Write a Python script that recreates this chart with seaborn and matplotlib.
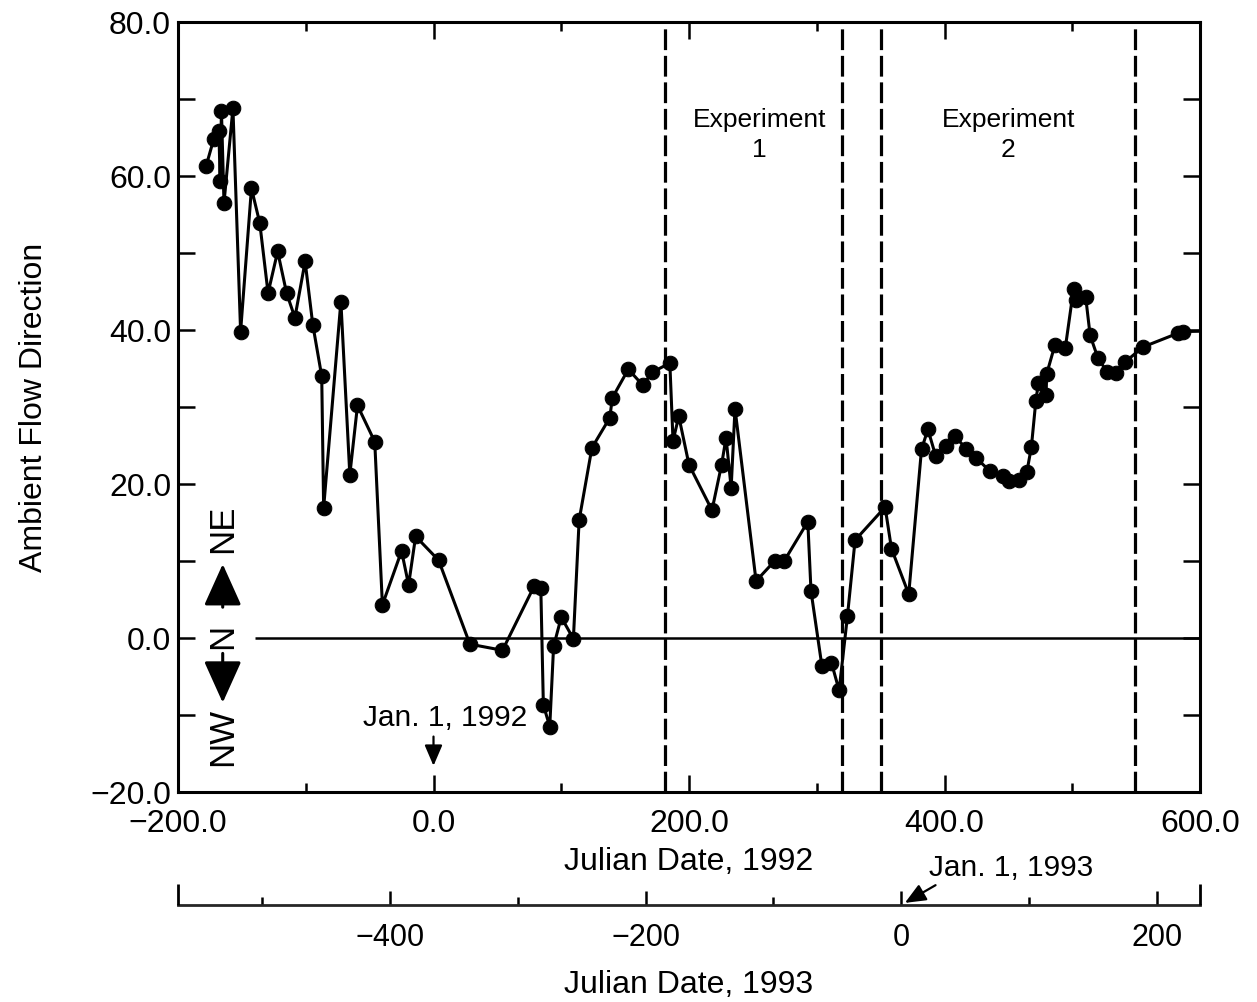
import matplotlib
matplotlib.use("Agg")
import matplotlib.pyplot as plt
import matplotlib.ticker as mticker
import matplotlib.transforms as mtransforms
import seaborn as sns

# Julian day (1992 reckoning) and ambient flow direction (degrees east of north)
julian_day = [
    -178, -172, -168, -167, -166, -164, -157, -151, -142.5, -136,
    -129.5, -122, -115, -108.5, -100.5, -94.5, -87.5, -86, -72.5, -65.5,
    -59.5, -46, -40, -25, -19.5, -14, 4, 28.5, 54, 79,
    84, 86, 91, 94, 100, 109.5, 114, 124, 138, 140,
    152.5, 164, 171, 185, 187.5, 192, 200, 218, 225.5, 229,
    233, 236, 252.5, 267, 274.5, 293, 295.5, 304, 311.5, 317.5,
    324, 330, 353.5, 358.5, 372, 382, 387, 393, 401, 408,
    417, 424.5, 435.5, 445.5, 450.5, 458, 464.5, 468, 471.5, 473.5,
    479.5, 480, 486.5, 494.5, 501, 503, 510.5, 514, 520, 527.5,
    534, 541, 555.5, 583, 587, 620,
]
flow_dir = [
    61.3, 64.8, 65.8, 59.4, 68.5, 56.5, 68.8, 39.8, 58.4, 53.9,
    44.8, 50.2, 44.8, 41.6, 48.9, 40.7, 34.0, 16.9, 43.7, 21.2,
    30.2, 25.5, 4.3, 11.3, 6.9, 13.2, 10.1, -0.8, -1.6, 6.8,
    6.5, -8.7, -11.5, -1.1, 2.7, -0.1, 15.3, 24.7, 28.6, 31.2,
    34.9, 32.8, 34.5, 35.7, 25.6, 28.8, 22.5, 16.6, 22.5, 26.0,
    19.5, 29.8, 7.4, 10.0, 10.0, 15.1, 6.1, -3.6, -3.2, -6.8,
    2.8, 12.7, 17.0, 11.6, 5.7, 24.5, 27.1, 23.7, 25.0, 26.2,
    24.6, 23.4, 21.7, 21.1, 20.4, 20.5, 21.6, 24.8, 30.8, 33.1,
    31.5, 34.3, 38.1, 37.6, 45.3, 43.9, 44.3, 39.3, 36.4, 34.5,
    34.4, 35.8, 37.8, 39.6, 39.8, 39.9,
]

# Experiment boundaries (1992 Julian day)
experiment_bounds = [181, 320, 350, 549]
experiment_labels = ["Experiment\n1", "Experiment\n2"]
experiment_label_x = [255, 450]

x_major_ticks = [-200, 0, 200, 400, 600]
x_minor_ticks = [-100, 100, 300, 500]
y_major_ticks = [-20, 0, 20, 40, 60, 80]
y_minor_ticks = [-10, 10, 30, 50, 70]

# 1993 Julian day axis
day_offset_1993 = 366
ticks_1993 = [-400, -200, 0, 200]
minor_ticks_1993 = [-500, -300, -100, 100]

zero_line_start = -140

sns.set_style("ticks")
plt.rcParams["font.family"] = ["Liberation Sans", "DejaVu Sans"]
plt.rcParams["axes.unicode_minus"] = True
plt.rcParams["text.color"] = "black"
plt.rcParams["axes.labelcolor"] = "black"
plt.rcParams["xtick.color"] = "black"
plt.rcParams["ytick.color"] = "black"

fig = plt.figure(figsize=(12.57, 10.02), dpi=100)
W, H = 1257, 1002
ax = fig.add_axes([178 / W, 1 - 792 / H, (1200 - 178) / W, (792 - 22) / H])

sns.lineplot(x=julian_day, y=flow_dir, ax=ax, color="black", linewidth=2.2,
             marker="o", markersize=10.5, markeredgecolor="black",
             markerfacecolor="black", sort=False, estimator=None)

ax.set_xlim(-200, 600)
ax.set_ylim(-20, 80)

# zero-direction reference line (north)
ax.hlines(0, zero_line_start, 600, color="black", linewidth=1.8)

for xb in experiment_bounds:
    ax.axvline(xb, color="black", linewidth=2.3, linestyle=(0, (6.5, 1.8)))

for xl, txt in zip(experiment_label_x, experiment_labels):
    ax.text(xl, 65.3, txt, ha="center", va="center", fontsize=19,
            linespacing=1.3, color="black")

# direction key on the left
key_x = -165
ax.text(key_x, 14.2, "NE", rotation=90, ha="center", va="center", fontsize=25)
ax.text(key_x, 0.2, "N", rotation=90, ha="center", va="center", fontsize=25)
ax.text(key_x, -12.8, "NW", rotation=90, ha="center", va="center", fontsize=25)
arrow_kw = dict(arrowstyle="-|>,head_length=1.0,head_width=0.45",
                color="black", lw=2.2, mutation_scale=26, shrinkA=0, shrinkB=0)
ax.annotate("", xy=(key_x, 9.6), xytext=(key_x, 4.0), arrowprops=arrow_kw)
ax.annotate("", xy=(key_x, -8.4), xytext=(key_x, -2.0), arrowprops=arrow_kw)

# Jan. 1, 1992 marker
ax.text(9, -10.4, "Jan. 1, 1992", ha="center", va="center", fontsize=21.5)
ax.annotate("", xy=(0, -16.6), xytext=(0, -12.8),
            arrowprops=dict(arrowstyle="-|>,head_length=0.7,head_width=0.3",
                            color="black", lw=1.6, mutation_scale=18,
                            shrinkA=0, shrinkB=0))

# axis styling
for sp in ax.spines.values():
    sp.set_visible(True)
    sp.set_linewidth(2.2)
    sp.set_color("black")

ax.xaxis.set_major_locator(mticker.FixedLocator(x_major_ticks))
ax.xaxis.set_minor_locator(mticker.FixedLocator(x_minor_ticks))
ax.yaxis.set_major_locator(mticker.FixedLocator(y_major_ticks))
ax.yaxis.set_minor_locator(mticker.FixedLocator(y_minor_ticks))
fmt = mticker.FuncFormatter(lambda v, p: f"{v:.1f}".replace("-", "\u2212"))
ax.xaxis.set_major_formatter(fmt)
ax.yaxis.set_major_formatter(fmt)

ax.tick_params(axis="both", which="both", direction="in", top=True,
               right=True, width=1.8, colors="black", labelsize=23)
ax.tick_params(axis="x", which="major", length=12, pad=12)
ax.tick_params(axis="x", which="minor", length=6.5)
ax.tick_params(axis="y", which="both", length=12, pad=5)

ax.set_xlabel("Julian Date, 1992", fontsize=23, labelpad=6)
ax.set_ylabel("Ambient Flow Direction", fontsize=23, labelpad=30)

# secondary 1993 axis below
sec_loc = -0.147
sec = ax.secondary_xaxis(sec_loc,
                         functions=(lambda d: d - day_offset_1993,
                                    lambda d: d + day_offset_1993))
sec.xaxis.set_major_locator(mticker.FixedLocator(ticks_1993))
sec.xaxis.set_minor_locator(mticker.FixedLocator(minor_ticks_1993))
sec.xaxis.set_major_formatter(
    mticker.FuncFormatter(lambda v, p: f"{v:.0f}".replace("-", "\u2212")))
sec.tick_params(axis="x", which="both", direction="in", width=1.8,
                colors="black", labelsize=22)
sec.tick_params(axis="x", which="major", length=10, pad=13)
sec.tick_params(axis="x", which="minor", length=5.5)
for name, sp in sec.spines.items():
    sp.set_linewidth(2.0)
    sp.set_visible(name == "bottom")
sec.set_xlabel("Julian Date, 1993", fontsize=23, labelpad=12)

# end caps of the 1993 axis
trans = mtransforms.blended_transform_factory(ax.transData, ax.transAxes)
for xe in (-200, 600):
    ax.plot([xe, xe], [sec_loc, sec_loc + 0.027], color="black", lw=2.0,
            transform=trans, clip_on=False, solid_capstyle="butt")

# Jan. 1, 1993 marker
ax.text(452, -0.099, "Jan. 1, 1993", transform=trans, ha="center",
        va="center", fontsize=21.5)
ax.annotate("", xy=(369, -0.144), xytext=(393, -0.121), xycoords=trans,
            textcoords=trans,
            arrowprops=dict(arrowstyle="-|>,head_length=0.7,head_width=0.3",
                            color="black", lw=1.6, mutation_scale=18,
                            shrinkA=0, shrinkB=0))

fig.savefig("out.png", dpi=100, facecolor="white")
